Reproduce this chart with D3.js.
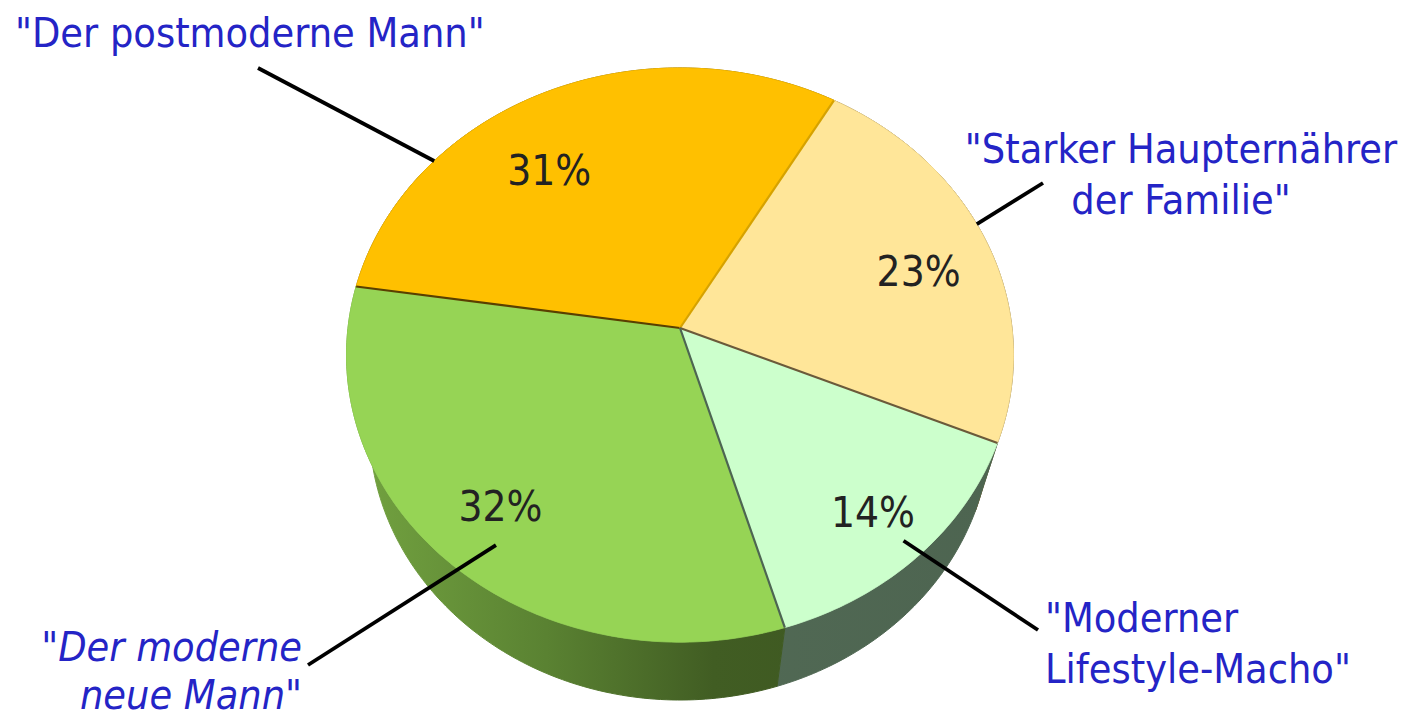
<!DOCTYPE html>
<html>
<head>
<meta charset="utf-8">
<script src="https://cdn.jsdelivr.net/npm/d3@7"></script>
<style>
  body { margin: 0; background: #fff; }
  svg { display: block; }
</style>
</head>
<body>
<div id="chart"></div>
<script>
// chart data (slice order clockwise, starting at the left edge)
const categories = ['"Der postmoderne Mann"', '"Starker Haupternährer der Familie"', '"Moderner Lifestyle-Macho"', '"Der moderne neue Mann"'];
const values = [31, 23, 14, 32];
const pctLabels = ["31%", "23%", "14%", "32%"];

// styles
const topColors = ["#ffc000", "#ffe699", "#ccffcc", "#96d455"];
const sideStops = [
    [["0%", "#8a6a00"], ["100%", "#8a6a00"]],
    [["0%", "#7b6535"], ["100%", "#7b6535"]],
    [["0%", "#56705a"], ["100%", "#4d6450"]],
    [["0%", "#74a441"], ["30%", "#5a8232"], ["55%", "#415d23"], ["100%", "#3a521f"]]
];

const width = 1412;
const height = 720;

const svg = d3.select("#chart")
    .append("svg")
        .attr("width", width)
        .attr("height", height);

// perspective projection of a tilted disc (radius 1)
const cx = 680, cy = 328;
const tilt = 31 * Math.PI / 180;
const dist = 5.47;
const focal = 332 * dist;
const depth = 0.465;
function project(a, r, h) {
    const u = r * Math.sin(a);
    const v = -r * Math.cos(a);
    const Y = v * Math.cos(tilt) + h * Math.sin(tilt);
    const Z = dist - v * Math.sin(tilt) + h * Math.cos(tilt);
    return [cx + focal * u / Z, cy + focal * Y / Z];
}
function arcPoints(a0, a1, r, h) {
    const n = Math.max(2, Math.ceil(Math.abs(a1 - a0) * 60));
    return d3.range(n + 1).map(i => project(a0 + (a1 - a0) * i / n, r, h));
}

const startDeg = -81.5;
const pie = d3.pie()
    .sort(null)
    .value(d => d)
    .startAngle(startDeg * Math.PI / 180)
    .endAngle(startDeg * Math.PI / 180 + 2 * Math.PI);
const slices = pie(values);

const line = d3.line();

// gradients for the side walls
const defs = svg.append("defs");
sideStops.forEach((stops, i) => {
    const g = defs.append("linearGradient")
        .attr("id", "side" + i)
        .attr("gradientUnits", "userSpaceOnUse")
        .attr("x1", cx - 335).attr("x2", cx + 335)
        .attr("y1", 0).attr("y2", 0);
    stops.forEach(s => g.append("stop").attr("offset", s[0]).attr("stop-color", s[1]));
});

// side walls first (back parts are hidden by the top faces)
svg.append("g").selectAll("path")
    .data(slices)
    .enter()
    .append("path")
        .attr("d", d => {
            const top = arcPoints(d.startAngle, d.endAngle, 1, 0);
            const bottom = arcPoints(d.endAngle, d.startAngle, 1, depth);
            return line(top.concat(bottom)) + "Z";
        })
        .attr("fill", (d, i) => `url(#side${i})`)
        .attr("stroke", (d, i) => `url(#side${i})`)
        .attr("stroke-width", 1);

// top faces
svg.append("g").selectAll("path")
    .data(slices)
    .enter()
    .append("path")
        .attr("d", d => line([project(0, 0, 0)].concat(arcPoints(d.startAngle, d.endAngle, 1, 0))) + "Z")
        .attr("fill", (d, i) => topColors[i])
        .attr("stroke", (d, i) => topColors[i])
        .attr("stroke-width", 0.8);

// radial edges between slices
const edgeColors = ["#5a3f00", "#d6a200", "#6b5a3a", "#4d6552"];
svg.append("g").selectAll("line")
    .data(slices)
    .enter()
    .append("path")
        .attr("d", d => line([project(0, 0, 0), project(d.startAngle, 1, 0)]))
        .attr("stroke", (d, i) => edgeColors[i])
        .attr("stroke-width", 2.2)
        .attr("fill", "none");

// percentage labels (angle nudge / radius per label)
const pctLayout = [[-9.6, 0.72], [3, 0.76], [0, 0.82], [0, 0.78]];
svg.append("g").selectAll("text")
    .data(slices)
    .enter()
    .append("text")
        .attr("transform", (d, i) => {
            const mid = (d.startAngle + d.endAngle) / 2 + pctLayout[i][0] * Math.PI / 180;
            const p = project(mid, pctLayout[i][1], 0);
            return `translate(${p[0]},${p[1]})`;
        })
        .attr("text-anchor", "middle")
        .attr("dy", "0.36em")
        .style("font-family", "'DejaVu Sans Condensed', 'DejaVu Sans', sans-serif")
        .style("font-size", "42px")
        .style("font-weight", 300)
        .attr("fill", "#222")
        .text((d, i) => pctLabels[i]);

// category labels with leader lines
const labelLayout = [
    { lines: ['"Der postmoderne Mann"'], x: 15, y: 47, anchor: "start", italic: false,
      from: [-51.6, 1.0], to: [258, 68] },
    { lines: ['"Starker Haupternährer', 'der Familie"'], x: 1181, y: 163, anchor: "middle", italic: false,
      from: [67.8, 1.0], to: [1043, 183] },
    { lines: ['"Moderner', 'Lifestyle-Macho"'], x: 1045, y: 632, anchor: "start", italic: false,
      from: [138, 0.94], to: [1038, 630] },
    { lines: ['"Der moderne', 'neue Mann"'], x: 302, y: 661, anchor: "end", italic: true,
      from: [216, 0.88], to: [308, 665] }
];

const leaders = svg.append("g");
labelLayout.forEach(l => {
    const p = project(l.from[0] * Math.PI / 180, l.from[1], 0);
    leaders.append("path")
        .attr("d", line([p, l.to]))
        .attr("stroke", "#000")
        .attr("stroke-width", 3.8)
        .attr("fill", "none");
});

const labels = svg.append("g");
labelLayout.forEach((l, i) => {
    const t = labels.append("text")
        .attr("x", l.x)
        .attr("y", l.y)
        .attr("text-anchor", l.anchor)
        .attr("fill", "#2424c6")
        .style("font-family", "'DejaVu Sans Condensed', 'DejaVu Sans', sans-serif")
        .style("font-size", "41px")
        .style("font-style", l.italic ? "oblique" : "normal")
        .attr("aria-label", categories[i]);
    l.lines.forEach((s, j) => {
        t.append("tspan")
            .attr("x", l.x)
            .attr("dy", j === 0 ? 0 : (l.italic ? 48 : 51))
            .text(s);
    });
});
</script>
</body>
</html>
